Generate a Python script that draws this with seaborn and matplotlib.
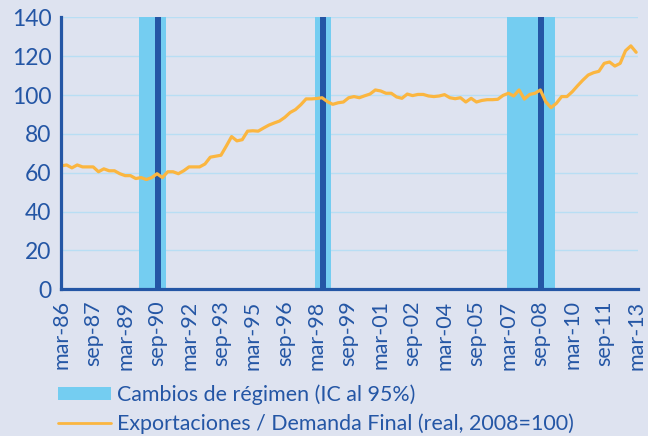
import numpy as np
import pandas as pd
import matplotlib.pyplot as plt
import seaborn as sns
from matplotlib.patches import Patch
from matplotlib.lines import Line2D

# quarterly labels, mar-86 .. mar-13
months = ['mar', 'jun', 'sep', 'dic']
quarters = [f'{m}-{y % 100:02d}' for y in range(1986, 2014) for m in months][:109]

# exports / final demand (real, 2008=100)
export_ratio = [
    63.5, 64, 62.5, 64, 63, 63, 63, 60.5, 62, 61, 61, 59.5, 58.5, 58.5, 57,
    57.5, 56.5, 57.5, 59.5, 57.5, 60.5, 60.5, 59.5, 61, 63, 63, 63, 64.5, 68, 68.5,
    69, 73.7, 78.6, 76.4, 77, 81.4, 81.6, 81.4, 83, 84.5, 85.6,
    86.6, 88.5, 91, 92.5, 95, 98, 98, 98.2, 98.6, 96.6, 95.2, 96, 96.4, 98.6,
    99.2, 98.6, 99.6, 100.5, 102.6, 102.1, 100.9, 100.9, 99, 98.3, 100.5, 99.7,
    100.3, 100.3, 99.5, 99.2, 99.5, 100.2, 98.6, 98.1, 98.6, 96.4, 98.3, 96.4,
    97.2, 97.6, 97.6, 97.8, 99.8,
    100.9, 99.5, 102.6, 97.9, 100.3, 100.9, 102.6, 96.6, 93.5, 95.7, 99.2, 99.2,
    101.7, 104.8, 107.7, 110.3, 111.5, 112.2, 116.3, 117.0, 114.9, 116.3, 122.8,
    125.3, 122.0,
]

# regime changes: 95% confidence interval and estimated break date
ci_start = ['dic-89', 'mar-98', 'mar-07']
ci_end = ['dic-90', 'sep-98', 'mar-09']
breaks = ['sep-90', 'jun-98', 'sep-08']

tick_labels = quarters[::6]

bg = '#dee3f0'
navy = '#2456a5'
grid_col = '#b8def4'
light_blue = '#74cdf1'
orange = '#fbb640'

sns.set_style('white', {'axes.facecolor': bg, 'figure.facecolor': bg})
plt.rcParams['font.family'] = ['Lato', 'DejaVu Sans']

df = pd.DataFrame({'q': np.arange(len(quarters)), 'label': quarters, 'value': export_ratio})
pos = {q: i for i, q in enumerate(quarters)}
shift = 0.17  # bars sit slightly right of the line's category positions

fig = plt.figure(figsize=(6.48, 4.36), dpi=100)
ax = fig.add_axes([0.0941, 0.3365, 0.8905, 0.6238])

ax.set_axisbelow(True)
ax.yaxis.grid(True, color=grid_col, lw=1.0)
ax.xaxis.grid(False)

for s, e in zip(ci_start, ci_end):
    ax.axvspan(pos[s] - 0.5 + shift, pos[e] + 0.5 + shift, color=light_blue, lw=0, zorder=1.5)
for b in breaks:
    ax.axvspan(pos[b] - 0.55 + shift, pos[b] + 0.55 + shift, color=navy, lw=0, zorder=1.6)

sns.lineplot(data=df, x='q', y='value', color=orange, lw=2.3, ax=ax, zorder=3)

ax.set_xlim(-0.05, 108.35)
ax.set_ylim(0, 140)
ax.set_yticks(range(0, 141, 20))
ax.set_xticks(np.arange(0, len(quarters), 6))
ax.set_xticklabels(tick_labels, rotation=90)
ax.set_xlabel('')
ax.set_ylabel('')

for side in ['top', 'right']:
    ax.spines[side].set_visible(False)
for side in ['left', 'bottom']:
    ax.spines[side].set_color(navy)
    ax.spines[side].set_linewidth(2.3)
    ax.spines[side].set_zorder(4)

ax.tick_params(axis='y', direction='out', length=5, width=2.2, color=navy,
               labelcolor=navy, labelsize=16.5, pad=2)
ax.tick_params(axis='x', direction='out', length=5, width=2.2, color=navy,
               labelcolor=navy, labelsize=15.5, pad=3)

handles = [Patch(facecolor=light_blue, edgecolor='none'),
           Line2D([0], [0], color=orange, lw=2)]
labels = ['Cambios de régimen (IC al 95%)',
          'Exportaciones / Demanda Final (real, 2008=100)']
leg = fig.legend(handles, labels, loc='upper left', bbox_to_anchor=(0.077, 0.137),
                 frameon=False, fontsize=15.4, handlelength=2.45, handleheight=0.55,
                 handletextpad=0.3, labelspacing=0.38, borderaxespad=0)
for t in leg.get_texts():
    t.set_color(navy)

plt.savefig('out.png', dpi=100, facecolor=bg)
